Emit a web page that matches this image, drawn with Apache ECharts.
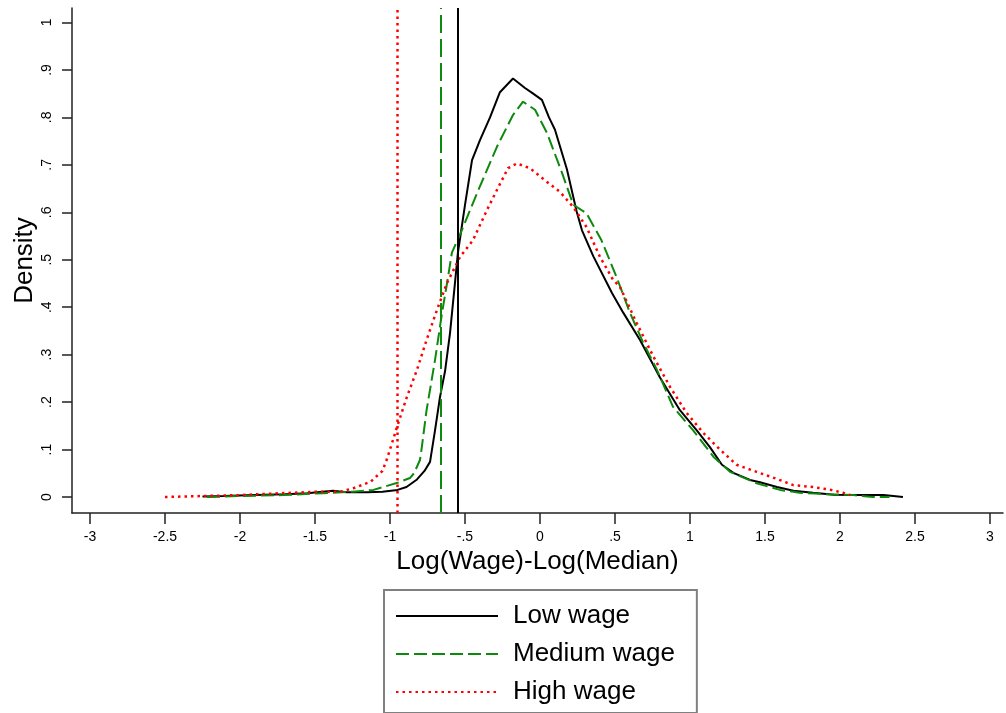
<!DOCTYPE html>
<html>
<head>
<meta charset="utf-8">
<script src="https://cdn.jsdelivr.net/npm/echarts@6/dist/echarts.min.js"></script>
<style>
html,body{margin:0;padding:0;background:#fff;}
#chart{width:1006px;height:713px;}
</style>
</head>
<body>
<div id="chart"></div>
<script>
// ---- data ----
var seriesNames = ['Low wage', 'Medium wage', 'High wage'];

var lowWage = [
  [-2.25,0.001],[-2.11,0.002],[-1.9,0.004],[-1.7,0.006],[-1.55,0.008],[-1.45,0.011],[-1.38,0.013],
  [-1.29,0.010],[-1.15,0.010],[-1.05,0.011],[-0.95,0.015],[-0.89,0.021],[-0.82,0.037],[-0.77,0.055],
  [-0.733,0.074],[-0.70,0.14],[-0.667,0.21],[-0.633,0.265],[-0.6,0.345],[-0.567,0.45],[-0.547,0.515],
  [-0.5,0.615],[-0.453,0.71],[-0.4,0.752],[-0.333,0.80],[-0.267,0.853],[-0.18,0.882],[-0.1,0.862],
  [-0.05,0.851],[0.013,0.837],[0.06,0.80],[0.1,0.774],[0.18,0.69],[0.244,0.602],[0.28,0.562],
  [0.356,0.507],[0.48,0.43],[0.556,0.388],[0.667,0.331],[0.8,0.252],[0.933,0.183],[1.044,0.141],
  [1.133,0.105],[1.213,0.068],[1.289,0.051],[1.4,0.036],[1.467,0.031],[1.58,0.021],[1.69,0.013],
  [1.82,0.009],[1.96,0.005],[2.09,0.004],[2.29,0.004],[2.42,0.0]
];

var mediumWage = [
  [-2.22,0.0],[-2.0,0.002],[-1.71,0.004],[-1.45,0.008],[-1.25,0.011],[-1.11,0.015],[-0.95,0.03],
  [-0.867,0.04],[-0.84,0.05],[-0.8,0.078],[-0.79,0.10],[-0.756,0.183],[-0.7,0.288],[-0.653,0.388],
  [-0.62,0.45],[-0.587,0.515],[-0.52,0.563],[-0.42,0.64],[-0.287,0.738],[-0.18,0.805],[-0.113,0.833],
  [-0.033,0.816],[0.047,0.767],[0.147,0.683],[0.222,0.616],[0.31,0.598],[0.41,0.541],[0.51,0.464],
  [0.6,0.388],[0.69,0.324],[0.78,0.268],[0.887,0.19],[1.02,0.141],[1.156,0.085],[1.267,0.053],
  [1.444,0.029],[1.6,0.015],[1.73,0.009],[1.91,0.006],[2.09,0.004],[2.22,0.0],[2.33,0.0]
];

var highWage = [
  [-2.5,0.0],[-2.25,0.002],[-2.0,0.004],[-1.73,0.008],[-1.49,0.011],[-1.33,0.011],[-1.24,0.019],
  [-1.13,0.032],[-1.05,0.055],[-1.02,0.08],[-0.98,0.12],[-0.953,0.148],[-0.887,0.211],[-0.82,0.268],
  [-0.756,0.331],[-0.687,0.394],[-0.62,0.451],[-0.533,0.506],[-0.447,0.541],[-0.353,0.605],
  [-0.287,0.647],[-0.213,0.693],[-0.153,0.703],[-0.067,0.693],[0.047,0.664],[0.133,0.643],
  [0.222,0.611],[0.31,0.569],[0.4,0.506],[0.487,0.458],[0.533,0.443],[0.644,0.367],[0.756,0.296],
  [0.867,0.232],[0.978,0.177],[1.089,0.135],[1.2,0.1],[1.311,0.068],[1.444,0.053],[1.58,0.038],
  [1.69,0.025],[1.82,0.021],[1.94,0.015],[2.02,0.009],[2.07,0.004]
];

// vertical reference lines (one per group)
var cutoffs = [-0.552, -0.662, -0.952];

var xTickValues = [-3,-2.5,-2,-1.5,-1,-0.5,0,0.5,1,1.5,2,2.5,3];
var xTickLabels = ['-3','-2.5','-2','-1.5','-1','-.5','0','.5','1','1.5','2','2.5','3'];
var yTickValues = [0,0.1,0.2,0.3,0.4,0.5,0.6,0.7,0.8,0.9,1];
var yTickLabels = ['0','.1','.2','.3','.4','.5','.6','.7','.8','.9','1'];

var xTitle = 'Log(Wage)-Log(Median)';
var yTitle = 'Density';

// ---- chart ----
var FONT = 'Liberation Sans, Arial, sans-serif';
function lookup(vals, labels, v) {
  for (var i = 0; i < vals.length; i++) { if (Math.abs(vals[i] - v) < 1e-6) return labels[i]; }
  return '';
}
var styles = [
  { color: '#000000', width: 2, type: 'solid' },
  { color: '#0d8a0d', width: 2, type: [13, 5] },
  { color: '#ff0000', width: 2.5, type: [2.5, 4] }
];
var datas = [lowWage, mediumWage, highWage];

var series = datas.map(function (d, i) {
  return {
    name: seriesNames[i],
    type: 'line',
    data: d,
    symbol: 'none',
    showSymbol: false,
    smooth: false,
    color: styles[i].color,
    lineStyle: { color: styles[i].color, width: styles[i].width, type: styles[i].type, cap: 'butt' },
    emphasis: { disabled: true },
    markLine: {
      silent: true,
      symbol: ['none', 'none'],
      label: { show: false },
      animation: false,
      lineStyle: { color: styles[i].color, width: styles[i].width, type: i === 1 ? [18, 6] : styles[i].type },
      emphasis: { disabled: true },
      data: [{ xAxis: cutoffs[i] }]
    }
  };
});

var chart = echarts.init(document.getElementById('chart'), null, { renderer: 'canvas' });
chart.setOption({
  animation: false,
  backgroundColor: '#ffffff',
  textStyle: { fontFamily: FONT },
  grid: { left: 72, right: 3, top: 8, bottom: 200, containLabel: false, outerBoundsMode: 'none' },
  xAxis: {
    type: 'value',
    min: -3.12, max: 3.087,
    name: xTitle,
    nameLocation: 'middle',
    nameGap: 32,
    nameTextStyle: { fontSize: 26, color: '#000', fontFamily: FONT },
    axisLine: { show: true, onZero: false, lineStyle: { color: '#222', width: 1.5 } },
    axisTick: { show: true, length: 11, customValues: xTickValues, lineStyle: { color: '#222', width: 1.5 } },
    axisLabel: {
      customValues: xTickValues, margin: 17, fontSize: 14, color: '#000', fontFamily: FONT,
      formatter: function (v) { return lookup(xTickValues, xTickLabels, v); }
    },
    splitLine: { show: false }
  },
  yAxis: {
    type: 'value',
    min: -0.0337, max: 1.0305,
    name: yTitle,
    nameLocation: 'middle',
    nameGap: 34,
    nameMoveOverlap: false,
    nameRotate: 90,
    nameTextStyle: { fontSize: 26, color: '#000', fontFamily: FONT },
    axisLine: { show: true, onZero: false, lineStyle: { color: '#222', width: 1.5 } },
    axisTick: { show: true, length: 10, customValues: yTickValues, lineStyle: { color: '#222', width: 1.5 } },
    axisLabel: {
      customValues: yTickValues, rotate: 90, margin: 18, fontSize: 14, color: '#000', fontFamily: FONT,
      formatter: function (v) { return lookup(yTickValues, yTickLabels, v); }
    },
    splitLine: { show: false }
  },
  legend: {
    orient: 'vertical',
    left: 384, top: 590,
    itemWidth: 102, itemHeight: 26, itemGap: 12,
    padding: [13, 22, 8, 11],
    borderColor: '#808080', borderWidth: 2, borderRadius: 0,
    backgroundColor: '#fff',
    selectedMode: false,
    itemStyle: { opacity: 0, borderWidth: 0 },
    textStyle: { fontSize: 26, color: '#000', fontFamily: FONT, padding: [0, 0, 0, 10] },
    data: seriesNames
  },
  series: series
});
</script>
</body>
</html>
